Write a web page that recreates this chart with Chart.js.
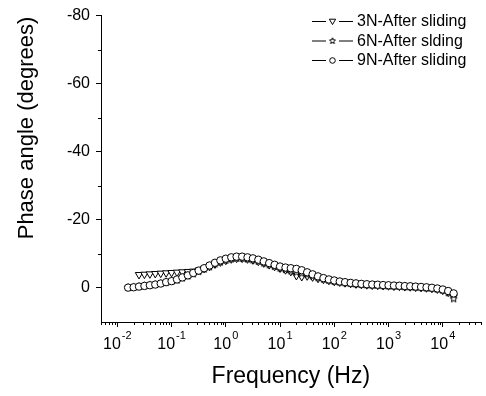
<!DOCTYPE html>
<html>
<head>
<meta charset="utf-8">
<script src="https://cdn.jsdelivr.net/npm/chart.js@4.4.1/dist/chart.umd.min.js"></script>
<style>
  body { margin: 0; background: #fff; }
  #wrap { width: 486px; height: 396px; }
</style>
</head>
<body>
<div id="wrap"><canvas id="phaseChart" width="486" height="396"></canvas></div>
<script>
// frequencies (Hz), ten per decade
const freqs = [
  0.0158, 0.02, 0.0251, 0.0316, 0.0398, 0.0501, 0.0631, 0.0794,
  0.1, 0.126, 0.158, 0.2, 0.251, 0.316, 0.398, 0.501, 0.631, 0.794,
  1, 1.26, 1.58, 2, 2.51, 3.16, 3.98, 5.01, 6.31, 7.94,
  10, 12.6, 15.8, 20, 25.1, 31.6, 39.8, 50.1, 63.1, 79.4,
  100, 126, 158, 200, 251, 316, 398, 501, 631, 794,
  1000, 1259, 1585, 1995, 2512, 3162, 3981, 5012, 6310, 7943,
  10000, 12589, 15849
];

// phase angle (degrees)
const phase3N = [
  null, null, -3.9, -4.0, -4.1, -4.2, -4.3, -4.4,
  -4.5, -4.6, -4.7, -4.8, -4.9, -5.2, -5.7, -6.3, -7.0, -7.6,
  -8.1, -8.5, -8.7, -8.7, -8.5, -8.2, -7.8, -7.3, -6.8, -6.3,
  -5.8, -5.3, -4.8, -3.6, -3.3, -3.5, -3.2, -2.8, -2.5, -2.2,
  -1.9, -1.7, -1.5, -1.3, -1.15, -1.0, -0.9, -0.8, -0.75, -0.65,
  -0.6, -0.5, -0.45, -0.35, -0.3, -0.2, -0.1, 0.0, 0.15, 0.35,
  0.7, 1.3, 2.6
];
const phase6N = [
  -0.1, -0.2, -0.4, -0.6, -0.8, -1.0, -1.3, -1.6,
  -1.9, -2.3, -2.9, -3.5, -4.1, -4.8, -5.5, -6.2, -7.0, -7.6,
  -8.1, -8.5, -8.7, -8.7, -8.5, -8.2, -7.8, -7.3, -6.8, -6.3,
  -5.8, -5.4, -5.0, -4.6, -4.3, -3.9, -3.5, -3.0, -2.6, -2.2,
  -1.9, -1.7, -1.5, -1.3, -1.15, -1.0, -0.9, -0.8, -0.75, -0.65,
  -0.6, -0.5, -0.45, -0.35, -0.3, -0.2, -0.1, 0.0, 0.15, 0.35,
  0.7, 1.4, 3.2
];
const phase9N = [
  -0.1, -0.2, -0.4, -0.6, -0.8, -1.0, -1.3, -1.7,
  -2.0, -2.5, -3.1, -3.7, -4.4, -5.1, -5.8, -6.6, -7.4, -8.1,
  -8.6, -9.0, -9.2, -9.2, -9.0, -8.7, -8.3, -7.8, -7.3, -6.8,
  -6.3, -6.0, -5.8, -5.6, -5.2, -4.6, -4.0, -3.4, -2.9, -2.5,
  -2.2, -1.9, -1.7, -1.5, -1.35, -1.2, -1.1, -1.0, -0.95, -0.85,
  -0.8, -0.7, -0.65, -0.55, -0.5, -0.4, -0.3, -0.2, -0.05, 0.15,
  0.45, 0.9, 1.6
];

const seriesNames = ["3N-After sliding", "6N-After slding", "9N-After sliding"];
const xDecades = [-2, -1, 0, 1, 2, 3, 4];
const yTicks = [-80, -60, -40, -20, 0];
const yMinorTicks = [-70, -50, -30, -10];

const FONT = "'Liberation Sans', Arial, sans-serif";

function makeStar(r) {
  const c = document.createElement("canvas");
  const s = Math.ceil(r * 2 + 3);
  c.width = s;
  c.height = s;
  const g = c.getContext("2d");
  g.beginPath();
  for (let i = 0; i < 10; i++) {
    const rad = i % 2 ? r * 0.45 : r;
    const a = -Math.PI / 2 + (i * Math.PI) / 5;
    g.lineTo(s / 2 + rad * Math.cos(a), s / 2 + rad * Math.sin(a));
  }
  g.closePath();
  g.fillStyle = "#fff";
  g.fill();
  g.strokeStyle = "#000";
  g.lineWidth = 1;
  g.stroke();
  return c;
}
const starImg = makeStar(3.8);
const starSmall = makeStar(3.2);

function toPoints(arr) {
  return freqs
    .map((f, i) => ({ x: f, y: arr[i] }))
    .filter((p) => p.y !== null);
}

// minor ticks, superscript tick labels, axis titles, legend
const decorPlugin = {
  id: "decor",
  afterDraw(chart) {
    const { ctx, chartArea, scales } = chart;
    const xs = scales.x;
    const ys = scales.y;
    ctx.save();
    ctx.strokeStyle = "#000";
    ctx.lineWidth = 1;

    // x minor ticks
    ctx.beginPath();
    for (let d = -3; d <= 4; d++) {
      for (let m = 2; m <= 9; m++) {
        const v = m * Math.pow(10, d);
        if (v < xs.min || v > xs.max) continue;
        const px = Math.round(xs.getPixelForValue(v)) + 0.5;
        ctx.moveTo(px, chartArea.bottom);
        ctx.lineTo(px, chartArea.bottom + 3);
      }
    }
    // y minor ticks
    yMinorTicks.forEach((v) => {
      const py = Math.round(ys.getPixelForValue(v)) + 0.5;
      ctx.moveTo(chartArea.left - 3, py);
      ctx.lineTo(chartArea.left, py);
    });
    ctx.stroke();

    // x tick labels 10^n
    ctx.fillStyle = "#000";
    ctx.textBaseline = "middle";
    ctx.textAlign = "left";
    xDecades.forEach((d) => {
      const px = xs.getPixelForValue(Math.pow(10, d));
      ctx.font = "16px " + FONT;
      const w1 = ctx.measureText("10").width;
      ctx.font = "11px " + FONT;
      const exp = String(d);
      const w2 = ctx.measureText(exp).width;
      const x0 = px - (w1 + w2 + 1) / 2;
      ctx.font = "16px " + FONT;
      ctx.fillText("10", x0, 345);
      ctx.font = "11px " + FONT;
      ctx.fillText(exp, x0 + w1 + 1, 336);
    });

    // axis titles
    ctx.textAlign = "center";
    ctx.font = "23px " + FONT;
    ctx.fillText("Frequency (Hz)", (chartArea.left + chartArea.right) / 2, 377);
    ctx.save();
    ctx.translate(27, 128);
    ctx.rotate(-Math.PI / 2);
    ctx.font = "22px " + FONT;
    ctx.fillText("Phase angle (degrees)", 0, 0);
    ctx.restore();

    // legend
    const rows = [21, 40.5, 60];
    chart.data.datasets.forEach((ds, i) => {
      const y = rows[i];
      ctx.beginPath();
      ctx.moveTo(312, y + 0.5);
      ctx.lineTo(326, y + 0.5);
      ctx.moveTo(339, y + 0.5);
      ctx.lineTo(353, y + 0.5);
      ctx.stroke();
      const mx = 332.5;
      ctx.fillStyle = "#fff";
      if (ds.pointStyle === "circle") {
        ctx.beginPath();
        ctx.arc(mx, y + 0.5, 2.8, 0, Math.PI * 2);
        ctx.fill();
        ctx.stroke();
      } else if (ds.pointStyle === "triangle") {
        const r = 3.6;
        ctx.beginPath();
        ctx.moveTo(mx - r * 0.87, y - r * 0.5);
        ctx.lineTo(mx + r * 0.87, y - r * 0.5);
        ctx.lineTo(mx, y + r);
        ctx.closePath();
        ctx.fill();
        ctx.stroke();
      } else {
        ctx.drawImage(starSmall, mx - starSmall.width / 2, y + 0.5 - starSmall.height / 2);
      }
      ctx.fillStyle = "#000";
      ctx.textAlign = "left";
      ctx.font = "16px " + FONT;
      ctx.fillText(ds.label, 357, y + 1);
    });
    ctx.restore();
  },
};

const commonDs = {
  borderColor: "#000",
  borderWidth: 1,
  pointBorderColor: "#000",
  pointBackgroundColor: "#fff",
  pointBorderWidth: 1,
  tension: 0,
  fill: false,
};

new Chart(document.getElementById("phaseChart"), {
  type: "line",
  data: {
    datasets: [
      {
        ...commonDs,
        label: seriesNames[0],
        data: toPoints(phase3N),
        pointStyle: "triangle",
        pointRotation: 180,
        pointRadius: 4.3,
        order: 2,
      },
      {
        ...commonDs,
        label: seriesNames[1],
        data: toPoints(phase6N),
        pointStyle: starImg,
        pointRadius: 3.8,
        order: 1,
      },
      {
        ...commonDs,
        label: seriesNames[2],
        data: toPoints(phase9N),
        pointStyle: "circle",
        pointRadius: 3.7,
        order: 0,
      },
    ],
  },
  options: {
    responsive: false,
    animation: false,
    layout: { padding: { top: 12, right: 0, left: 0, bottom: 0 } },
    plugins: {
      legend: { display: false },
      tooltip: { enabled: false },
    },
    scales: {
      x: {
        type: "logarithmic",
        min: 0.005,
        max: 50000,
        afterBuildTicks: (scale) => {
          scale.ticks = xDecades.map((d) => ({ value: Math.pow(10, d) }));
        },
        afterFit: (scale) => {
          scale.height = 74;
        },
        ticks: { display: false },
        grid: {
          display: true,
          drawOnChartArea: false,
          drawTicks: true,
          tickLength: 5,
          tickColor: "#000",
          color: "#000",
        },
        border: { display: true, color: "#000", width: 1 },
      },
      y: {
        min: -80,
        max: 10,
        reverse: true,
        afterBuildTicks: (scale) => {
          scale.ticks = yTicks.map((v) => ({ value: v }));
        },
        afterFit: (scale) => {
          scale.width = 101;
        },
        ticks: {
          color: "#000",
          padding: 6,
          font: { family: FONT, size: 16 },
          callback: (v) => String(v),
        },
        grid: {
          display: true,
          drawOnChartArea: false,
          drawTicks: true,
          tickLength: 5,
          tickColor: "#000",
          color: "#000",
        },
        border: { display: true, color: "#000", width: 1 },
      },
    },
  },
  plugins: [decorPlugin],
});
</script>
</body>
</html>
